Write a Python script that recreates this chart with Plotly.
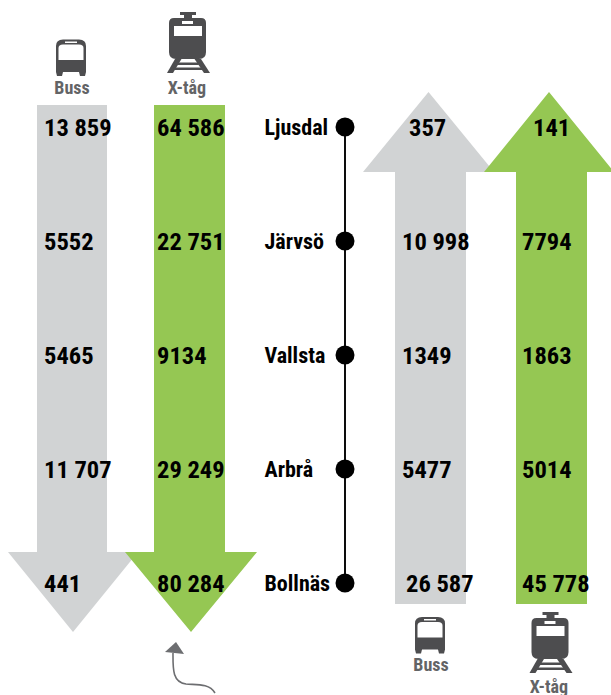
import plotly.graph_objects as go

stops = ["Ljusdal", "Järvsö", "Vallsta", "Arbrå", "Bollnäs"]
buss_down = [13859, 5552, 5465, 11707, 441]
train_down = [64586, 22751, 9134, 29249, 80284]
buss_up = [357, 10998, 1349, 5477, 26587]
train_up = [141, 7794, 1863, 5014, 45778]

GRAY = "#d1d3d4"
GREEN = "#95c753"
ICON = "#4d4d4f"
LABEL = "#636466"
FONT = "Roboto Condensed, Archivo Narrow, DejaVu Sans Condensed, Liberation Sans, sans-serif"

stop_y = [127, 241, 355, 469, 583]
text_y = [y + 2.5 for y in stop_y]


def fmt(v):
    s = str(v)
    return s[:-3] + " " + s[-3:] if v >= 10000 else s


shapes = []


def path(d, fill, **kw):
    shapes.append(dict(type="path", path=d, fillcolor=fill, line=dict(width=0), layer="below", **kw))


def poly(pts):
    return "M" + " L".join(f"{x},{y}" for x, y in pts) + " Z"


def circle(cx, cy, r):
    return f"M{cx-r},{cy} A{r},{r} 0 1 1 {cx+r},{cy} A{r},{r} 0 1 1 {cx-r},{cy} Z"


def arrow(l, r, base, neck, hl, hr, tip_x, tip_y, color):
    path(poly([(l, base), (r, base), (r, neck), (hr, neck), (tip_x, tip_y), (hl, neck), (l, neck)]), color)


arrow(37, 107, 105, 552, 8, 138, 73, 632, GRAY)
arrow(154, 225, 105, 552, 125, 257, 191, 632, GREEN)
arrow(395, 466, 604, 172, 363, 494, 428.5, 92, GRAY)
arrow(516, 587, 604, 172, 484, 614, 549, 92, GREEN)


def bus(dx, dy):
    def X(x): return x + dx
    def Y(y): return y + dy
    path(f"M{X(56)},{Y(46)} Q{X(56)},{Y(39.5)} {X(63)},{Y(39.5)} L{X(79)},{Y(39.5)} Q{X(86)},{Y(39.5)} {X(86)},{Y(46)} "
         f"L{X(86)},{Y(72)} L{X(85)},{Y(76)} L{X(80)},{Y(76)} L{X(79)},{Y(72)} L{X(63)},{Y(72)} L{X(62)},{Y(76)} "
         f"L{X(57)},{Y(76)} L{X(56)},{Y(72)} Z", ICON)
    path(f"M{X(58.5)},{Y(48)} Q{X(58.5)},{Y(44.5)} {X(63)},{Y(44.5)} L{X(79)},{Y(44.5)} Q{X(83.5)},{Y(44.5)} {X(83.5)},{Y(48)} "
         f"L{X(83.5)},{Y(60)} L{X(58.5)},{Y(60)} Z", "white")
    path(poly([(X(65), Y(41.5)), (X(77), Y(41.5)), (X(77), Y(43)), (X(65), Y(43))]), "white")
    path(circle(X(61), Y(65), 2.4), "white")
    path(circle(X(82), Y(65), 2.4), "white")


def train(dx, dy):
    def P(pts): return poly([(x + dx, y + dy) for x, y in pts])
    path(P([(180, 12), (196, 12), (196, 15), (192, 15), (192, 19), (184, 19), (184, 15), (180, 15)]), ICON)
    path(f"M{169+dx},{23+dy} Q{169+dx},{18+dy} {174+dx},{18+dy} L{201+dx},{18+dy} Q{206+dx},{18+dy} {206+dx},{23+dy} "
         f"L{206+dx},{52+dy} Q{206+dx},{59+dy} {199+dx},{59+dy} L{176+dx},{59+dy} Q{169+dx},{59+dy} {169+dx},{52+dy} Z", ICON)
    path(P([(182, 21), (193, 21), (193, 24), (182, 24)]), "white")
    path(P([(174, 26), (202, 26), (202, 36), (174, 36)]), "white")
    path(circle(178 + dx, 51 + dy, 3.3), "white")
    path(circle(199 + dx, 51 + dy, 3.3), "white")
    path(P([(175, 59), (181.5, 59), (173, 73), (167, 73)]), ICON)
    path(P([(194.5, 59), (201, 59), (210, 73), (204, 73)]), ICON)
    path(P([(178, 62.5), (198, 62.5), (199, 65), (177, 65)]), ICON)
    path(P([(174, 67.5), (202, 67.5), (203, 70), (173, 70)]), ICON)


bus(0, 0)
train(0, 0)
bus(359, 577.5)
train(362.5, 600)

# curved annotation arrow
shapes.append(dict(type="path", path="M215,693 C209,683 196,685 186,684 C172,682 173,668 173,653",
                   line=dict(color="#6d6e71", width=1.6), layer="below"))
path(poly([(176, 642), (165, 652), (184, 654)]), "#6d6e71")

fig = go.Figure()

fig.add_trace(go.Scatter(x=[345] * 5, y=stop_y, mode="lines+markers",
                         line=dict(color="black", width=1.9),
                         marker=dict(color="black", size=19), hoverinfo="skip"))


def label(xs, ys, txt, size, color="black", pos="middle right"):
    fig.add_trace(go.Scatter(x=xs, y=ys, mode="text", text=txt, textposition=pos,
                             textfont=dict(family=FONT, size=size, color=color, weight="bold"),
                             hoverinfo="skip", cliponaxis=False))


label([44] * 5, text_y, [fmt(v) for v in buss_down], 24.5)
label([157] * 5, text_y, [fmt(v) for v in train_down], 24.5)
label([264.5] * 5, text_y, stops, 22)
label([409, 402, 402, 402, 406], text_y, [fmt(v) for v in buss_up], 24.5)
label([533, 522, 522, 522, 522], text_y, [fmt(v) for v in train_up], 24.5)
label([72, 187, 431, 549], [89, 89, 666, 688], ["Buss", "X-tåg", "Buss", "X-tåg"], 18, LABEL, "middle center")

fig.update_layout(
    width=611, height=695, margin=dict(l=0, r=0, t=0, b=0),
    paper_bgcolor="white", plot_bgcolor="white", showlegend=False, shapes=shapes,
    xaxis=dict(range=[0, 611], visible=False, fixedrange=True),
    yaxis=dict(range=[695, 0], visible=False, fixedrange=True),
)
fig.write_html("out.html", config=dict(displayModeBar=False),
               post_script="document.body.style.margin='0';document.documentElement.style.overflow='hidden';")
